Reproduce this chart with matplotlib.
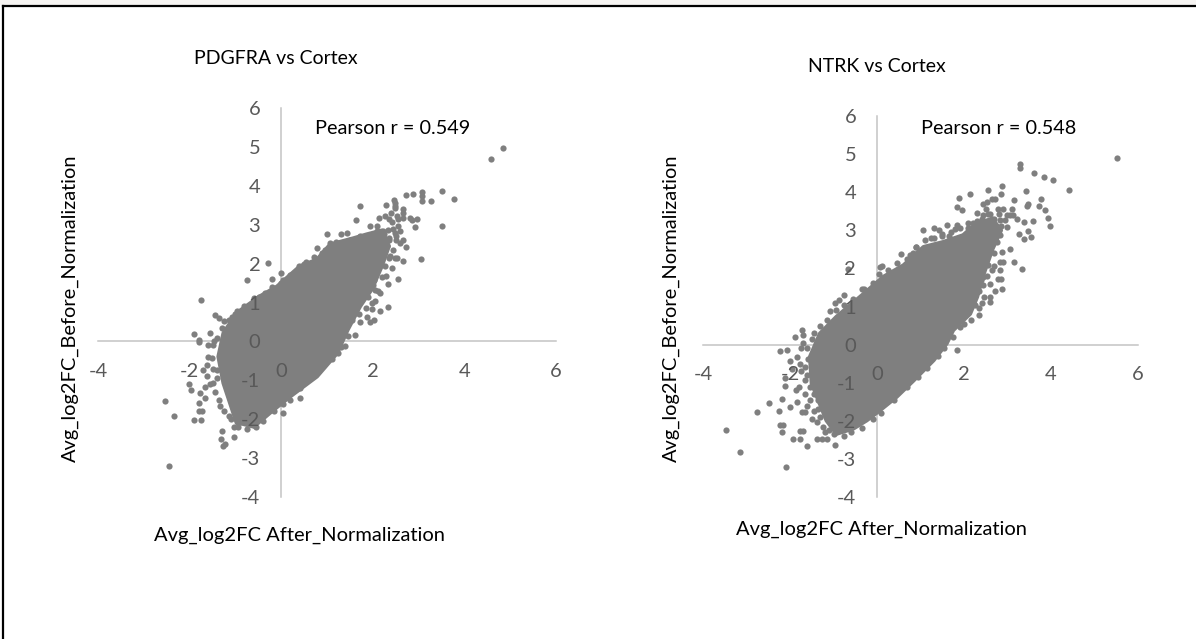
import matplotlib
matplotlib.use("Agg")
import matplotlib.pyplot as plt
from matplotlib.lines import Line2D
from matplotlib.patches import Rectangle

plt.rcParams['font.family'] = ['Lato', 'DejaVu Sans']
plt.rcParams['axes.unicode_minus'] = False

W, H = 1196, 639
GREY = "#7f7f7f"

# tick values
x_ticks = [-4, -2, 0, 2, 4, 6]
y_ticks = [-4, -3, -2, -1, 0, 1, 2, 3, 4, 5, 6]

# PDGFRA: outline of the solid part of the cloud
core1_x = [-0.97, -1.26, -1.37, -1.26, -0.97, -0.46, -0.09, 0.41, 0.78, 1.07, 1.58, 1.87, 2.20, 2.35, 2.20, 1.98, 1.72, 1.45, 1.22, 0.78, 0.20, -0.17, -0.60, -0.90]
core1_y = [-2.10, -1.07, -0.39, 0.21, 0.73, 1.16, 1.41, 1.93, 2.10, 2.49, 2.65, 2.75, 2.85, 2.45, 1.95, 1.35, 0.90, 0.30, -0.30, -0.90, -1.41, -1.76, -2.19, -2.10]

# PDGFRA: single points around it
pts1_x = [4.85, 4.59, 3.78, 3.51, 3.51, 3.27, 3.07, 3.07, 3.07, 2.87, 2.72, 2.46, 2.29, 2.49, 2.65, 1.71, 1.63, 2.96, 2.85, 2.93,
          3.05, 2.72, 2.67, 2.66, 2.55, 2.49, 2.34, 2.34, 2.16, 2.29,
          -2.54, -2.34, -2.44, -1.91, -1.75, -1.80, -1.73, -1.80, -1.78, -1.66, -2.02, -1.98, -1.71, -1.61, -1.62, -1.66, -1.48,
          -1.30, -1.32, -1.26, -1.22, -1.03, -1.04, -1.15, -1.33, -1.40, -1.51, -1.59, -1.80, -1.79, -1.90, -1.55, -1.46,
          -1.44, -1.35, -1.24, -1.76, -0.74, -0.28, -0.20, 0.00, 0.00, -0.97, -1.08, -0.82, -0.49, -0.60,
          0.04, 0.41, 0.20, -0.20, -0.60, -0.46, -0.90,
          0.56, 0.92, 1.25, 1.40, 1.62, 1.72, 1.94, 2.02, 1.87, 1.99, 2.05, 2.16, 2.05,
          2.02, 2.27, 2.42, 2.53, 2.09, 2.31, 2.45, 2.60, 2.49, 2.56, 2.42, 2.27, 2.13, 1.94, 2.09, 2.23, 2.34, 1.87, 1.71,
          1.43, 1.30, 1.00, 0.78, 0.89, 0.71, 1.07, 0.49, 0.27, 0.12, 2.67, 2.82, 2.53, 2.49, 2.49, 2.20, 2.35, 2.50, 2.15, 2.38,
          2.05, 2.15, 2.25, 2.35, 2.25, 2.15, 2.35, 2.00, 2.10, 2.45, 2.55, 2.40, 2.35, 2.65, 2.60, 2.50, 2.05, 2.20, 2.00, 2.12,
          1.90, 1.98, 1.85, 1.70, 1.55, 1.45, 1.30, 1.10, 0.80, 0.60, 0.40, 0.20, 0.05, -0.15, -0.40, -0.55, -0.75, -0.95,
          -1.60, -1.50, -1.40, -1.55, -1.45, -1.35, -1.25, -1.10, -1.50, -1.40, -1.30, -1.15, -1.00, -0.80, -0.60, -0.35, -0.20,
          0.05, 0.20, 0.38, 0.55, 0.95, 1.20, 1.50, 1.75]
pts1_y = [4.96, 4.68, 3.67, 3.87, 2.96, 3.62, 3.83, 3.73, 3.60, 3.79, 3.77, 3.63, 3.50, 3.47, 3.41, 3.47, 3.12, 3.14, 3.13, 2.93,
          2.12, 2.43, 2.61, 2.06, 1.60, 2.14, 1.47, 0.88, 0.79, 1.67,
          -1.52, -1.93, -3.20, -2.03, -2.03, -1.80, -1.80, -1.59, -1.33, -1.46, -1.09, -1.26, -0.73, -0.60, -0.90, -1.16, -1.07,
          -2.31, -2.50, -2.70, -2.64, -2.47, -2.19, -1.93, -1.67, -0.73, -0.43, -0.10, 0.04, -0.02, 0.20, 0.21, 0.00,
          0.67, 0.60, 0.53, 1.06, 1.57, 2.02, 1.61, 1.77, 1.50, 0.79, 0.64, 0.90, 1.14, 1.11,
          -1.83, -1.46, -1.50, -1.74, -2.14, -1.97, -2.06,
          -0.94, -0.64, -0.30, -0.11, 0.17, 0.51, 0.51, 0.56, 0.64, 0.83, 1.03, 1.24, 1.33,
          1.59, 1.93, 1.89, 2.14, 2.01, 2.44, 2.36, 2.53, 2.78, 2.96, 3.08, 3.23, 3.17, 2.96, 2.96, 2.83, 2.87, 2.72, 2.70,
          2.78, 2.76, 2.75, 2.39, 2.27, 2.18, 2.53, 1.99, 1.76, 1.59, 3.17, 3.17, 3.23, 3.56, 3.43, 2.60, 2.65, 2.70, 2.25, 2.20,
          2.30, 2.55, 2.75, 2.60, 2.25, 2.00, 2.15, 2.70, 2.85, 2.90, 3.15, 3.30, 3.15, 3.30, 2.85, 2.60, 1.75, 1.65, 1.45, 1.30,
          1.15, 1.00, 0.85, 0.70, 0.55, 0.15, -0.15, -0.45, -0.75, -0.95, -1.20, -1.35, -1.60, -1.80, -2.05, -2.20, -2.25, -2.20,
          -0.40, -0.70, -0.95, -1.10, -1.30, -1.50, -1.80, -2.00, -0.10, 0.10, 0.35, 0.55, 0.70, 0.80, 1.00, 1.25, 1.40,
          1.58, 1.70, 1.95, 2.05, 2.35, 2.55, 2.60, 2.55]

# NTRK: outline of the solid part of the cloud
core2_x = [-1.16, -1.50, -1.54, -1.31, -0.93, -0.39, 0.15, 0.61, 1.07, 1.52, 1.98, 2.29, 2.65, 2.85, 2.65, 2.45, 2.30, 2.14, 1.75, 1.60, 1.30, 0.84, 0.45, 0.07, -0.24, -0.54, -0.93]
core2_y = [-1.99, -1.02, -0.32, 0.29, 0.73, 1.25, 1.78, 2.08, 2.56, 2.69, 2.87, 3.18, 3.30, 3.00, 2.50, 1.85, 1.25, 0.81, 0.38, 0.03, -0.41, -0.94, -1.37, -1.72, -1.99, -2.20, -2.34]

# NTRK: single points around it
pts2_x = [5.51, 3.29, 3.29, 3.62, 3.84, 4.05, 4.41, 3.43, 2.87, 2.84, 2.56, 2.14, 1.88, 1.83, 1.95, 3.16, 3.77, 3.72, 3.87, 3.94, 3.97,
          3.48, 3.44, 3.21, 3.39, 3.58, 3.26, 3.46, 3.53, 3.39, 3.05, 3.15, 3.33, 1.06, 1.30, 1.43, 1.60, 1.79,
          0.55, 0.76, 0.82, 0.11, 0.07, -0.67, -0.76, -0.87, -0.97, -1.08, -0.34,
          -1.73, -1.89, -1.71, -2.23, -2.08, -1.75, 1.83,
          -3.48, -3.16, -2.10, -2.75, -2.48, -2.25, -2.19, -2.23, -2.15, -2.18, -2.12, -2.12, -1.92, -1.78, -1.77, -1.69, -1.60,
          -1.39, -1.27, -1.16, -0.97, -1.20, -1.00, -0.77, -2.00, -1.85, -1.73, -1.66, -1.86, -1.66, -1.66, -2.00, -1.85, -1.77,
          -1.58, -1.50, -1.39, -1.54, -1.35,
          2.43, 2.52, 2.64, 2.71, 2.79, 2.90, 3.10, 2.98, 3.12, 2.83, 2.60, 2.44, 2.75, 2.98, 2.64, 2.83, 2.64, 2.87, 2.83, 2.90,
          2.83, 2.79, 2.84, 2.87, 2.71, 2.60, 2.60, 2.41, 2.35, 2.44, 2.44, 2.64, 2.29,
          2.55, 2.50, 2.60, 2.45, 2.72, 2.40, 2.30, 2.20, 2.10, 1.85, 1.65, 1.50, 1.30, 1.10, 0.90, 2.65, 2.50,
          2.30, 2.42, 2.55, 2.68, 2.80, 2.95, 3.05, 2.35, 2.48, 2.60, 2.72, 2.85, 2.40, 2.52, 2.65, 2.75, 2.45, 2.55, 2.68, 2.42,
          2.55, 2.68, 2.40, 2.52, 2.60, 2.35, 2.45, 2.25, 2.35, 2.15, 2.00, 1.90, 1.75, 1.55, 1.40, 1.15, 0.95, 0.70, 0.40, 0.10,
          -0.10, -0.35, -0.60,
          -1.60, -1.75, -1.65, -1.80, -1.55, -1.60, -1.45, -1.45, -1.30, -1.25, -1.10, -1.35, -1.95, -1.70, -1.60, -1.50, -1.45,
          -1.30, -1.15, -0.95, -0.75, -0.55, -0.30, -0.10, 0.05, 0.25, 0.45, 0.70, 0.90, 1.25, 1.50, 1.70, 1.90, 2.10]
pts2_y = [4.89, 4.73, 4.64, 4.50, 4.40, 4.33, 4.05, 4.02, 4.17, 3.96, 4.07, 3.96, 3.84, 3.60, 3.53, 3.80, 3.82, 3.65, 3.52, 3.31, 3.11,
          3.70, 3.64, 3.29, 3.22, 3.25, 2.90, 2.97, 2.83, 2.76, 2.50, 2.17, 1.98, 3.01, 3.05, 3.02, 3.13, 3.04,
          2.37, 2.34, 2.41, 2.06, 2.04, 1.99, 1.29, 1.16, 1.10, 0.87, 1.45,
          0.39, 0.20, 0.24, -0.17, -0.13, -0.10, -0.15,
          -2.25, -2.83, -3.22, -1.76, -1.54, -1.73, -1.42, -2.12, -2.12, -2.29, -1.08, -0.87, -2.48, -2.48, -2.27, -2.27, -2.67,
          -2.48, -2.47, -2.49, -2.64, -2.29, -2.34, -2.41, -1.64, -1.50, -1.77, -1.77, -1.20, -0.94, -1.29, -0.44, -0.32, -0.50,
          -0.37, -1.94, -2.03, -1.46, -1.68,
          3.70, 3.74, 3.81, 3.83, 3.57, 3.57, 3.57, 3.39, 3.39, 3.26, 3.44, 3.39, 3.09, 3.09, 2.96, 2.87, 2.65, 2.43, 2.17, 2.17,
          1.95, 1.71, 1.71, 1.47, 1.41, 1.25, 1.12, 1.08, 0.77, 1.78, 1.56, 1.95, 1.38,
          3.15, 2.80, 2.50, 2.20, 2.90, 1.90, 3.25, 3.20, 3.05, 3.15, 2.85, 2.85, 2.80, 2.75, 2.55, 3.30, 3.55,
          3.45, 3.30, 3.42, 3.30, 3.42, 3.28, 3.40, 2.85, 2.95, 3.00, 3.05, 3.10, 2.60, 2.65, 2.78, 2.70, 2.35, 2.42, 2.40, 2.05,
          2.10, 2.05, 1.70, 1.80, 1.60, 1.40, 1.25, 1.05, 0.95, 0.65, 0.55, 0.45, 0.20, -0.10, -0.30, -0.62, -0.85, -1.10, -1.45, -1.80,
          -1.95, -2.20, -2.30,
          -0.80, -0.70, -0.60, -1.10, -1.10, -1.60, -1.30, -1.75, -1.90, -2.15, -2.25, -1.45, -0.65, 0.05, -0.10, 0.15, 0.30,
          0.50, 0.65, 0.90, 1.05, 1.20, 1.45, 1.62, 1.85, 1.95, 2.15, 2.25, 2.55, 2.80, 2.90, 2.95, 3.05, 3.20]


def px_axes(x0, x1, y0, y1):
    return fig.add_axes([x0 / W, 1 - y1 / H, (x1 - x0) / W, (y1 - y0) / H])


def px_text(x, y, s, **kw):
    fig.text(x / W, 1 - y / H, s, color="black", ha="center", va="center", **kw)


def scatter_panel(ax, core_x, core_y, pts_x, pts_y):
    ax.fill(core_x, core_y, color=GREY, lw=3, joinstyle="round", zorder=1)
    ax.scatter(pts_x, pts_y, s=20, color=GREY, linewidths=0, zorder=1.5)
    ax.set_xlim(-4, 6)
    ax.set_ylim(-4, 6)
    ax.set_xticks(x_ticks)
    ax.set_yticks(y_ticks)
    ax.patch.set_visible(False)
    ax.set_axisbelow(False)
    ax.spines['top'].set_visible(False)
    ax.spines['right'].set_visible(False)
    for side in ['left', 'bottom']:
        ax.spines[side].set_position(('data', 0))
        ax.spines[side].set_color("#c4c4c4")
        ax.spines[side].set_linewidth(1.1)
        ax.spines[side].set_zorder(0.5)
    ax.tick_params(axis='x', length=0, pad=15.5, labelsize=14.5, labelcolor="#595959")
    ax.tick_params(axis='y', length=0, pad=15, labelsize=14.5, labelcolor="#595959")


fig = plt.figure(figsize=(W / 100, H / 100), dpi=100, facecolor="white")

# page edge: pale strip and black frame along the top and left
fig.add_artist(Rectangle((0, 1 - 5 / H), 1, 5 / H, transform=fig.transFigure, color="#f6f4f2", lw=0))
fig.add_artist(Line2D([3.5 / W, 3.5 / W], [0, 1 - 6 / H], transform=fig.transFigure, color="black", lw=1.6))
fig.add_artist(Line2D([2.5 / W, 1], [1 - 6 / H, 1 - 6 / H], transform=fig.transFigure, color="black", lw=1.6))

ax1 = px_axes(98, 556, 108, 497)
scatter_panel(ax1, core1_x, core1_y, pts1_x, pts1_y)

ax2 = px_axes(703, 1138, 116, 497)
scatter_panel(ax2, core2_x, core2_y, pts2_x, pts2_y)

px_text(276, 59, "PDGFRA vs Cortex", fontsize=14)
px_text(877, 66, "NTRK vs Cortex", fontsize=14)
px_text(393, 129, "Pearson r = 0.549", fontsize=14.3)
px_text(999, 129, "Pearson r = 0.548", fontsize=14.3)
px_text(299, 535, "Avg_log2FC After_Normalization", fontsize=14.5)
px_text(881, 529, "Avg_log2FC After_Normalization", fontsize=14.5)
px_text(70, 308, "Avg_log2FC_Before_Normalization", fontsize=14.4, rotation=90)
px_text(671, 308, "Avg_log2FC_Before_Normalization", fontsize=14.4, rotation=90)

fig.savefig("out.png", dpi=100)
